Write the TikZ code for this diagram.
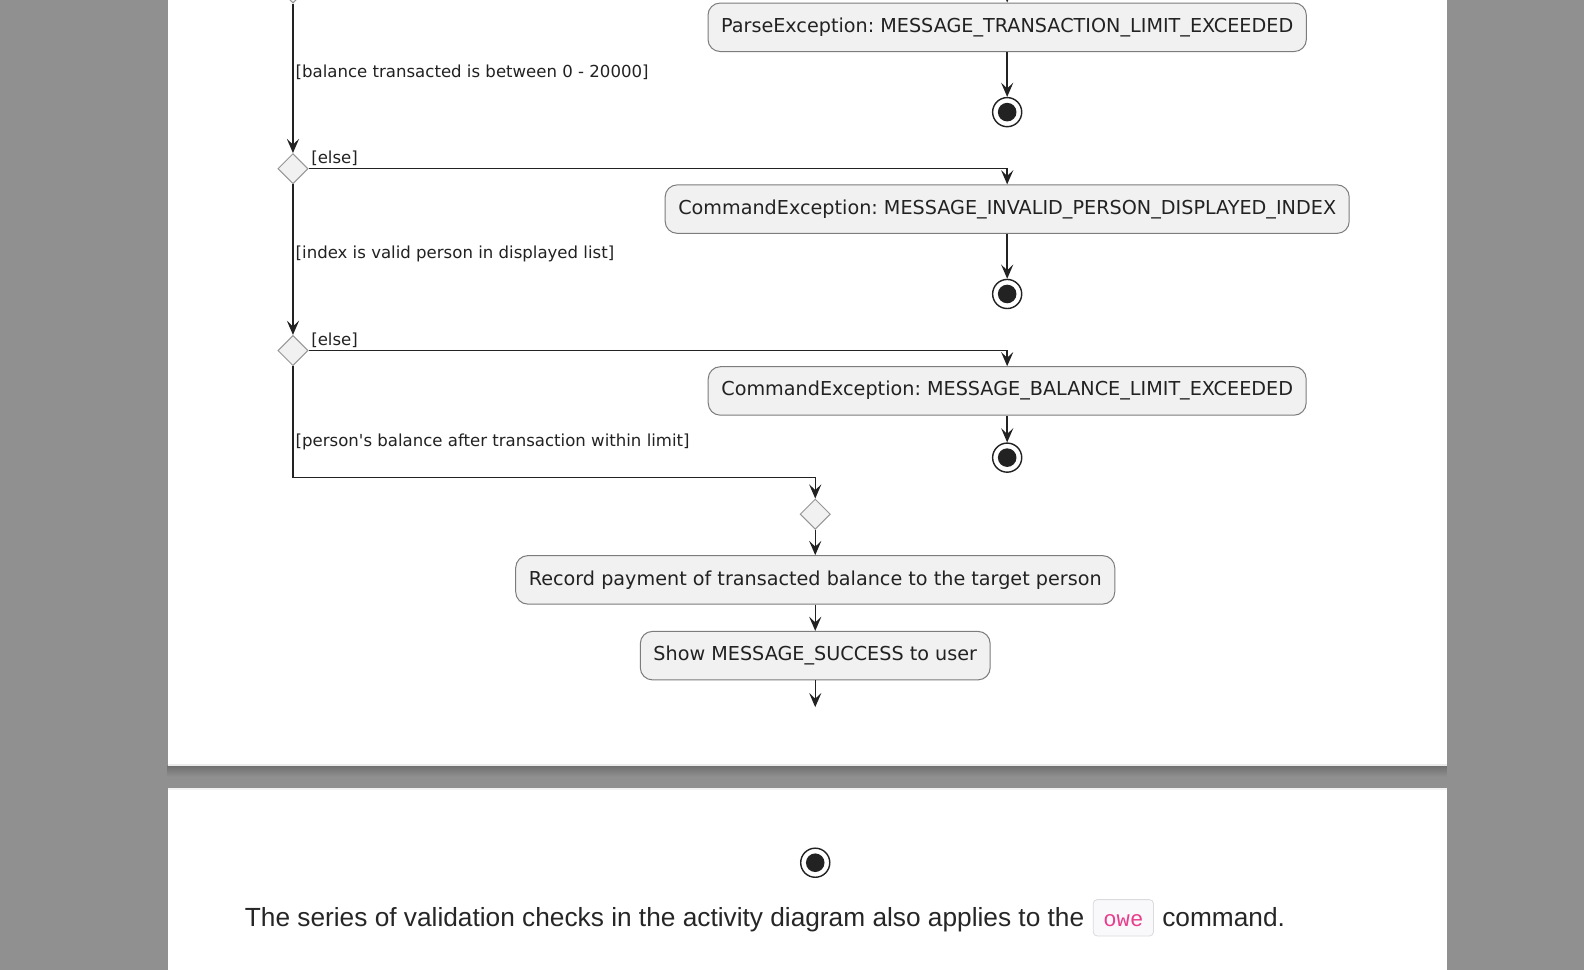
\documentclass[tikz,border=0pt]{standalone}
\usepackage{fontspec}
\setmainfont{DejaVu Sans}
\newfontfamily\pagefont{Liberation Sans}
\newfontfamily\codefont{Liberation Mono}
\usetikzlibrary{arrows.meta,shapes.geometric,positioning}
\definecolor{viewer}{HTML}{909090}
\definecolor{actfill}{HTML}{F1F1F1}
\definecolor{actline}{HTML}{7C7C7C}
\definecolor{flowline}{HTML}{222222}
\definecolor{codepink}{HTML}{E83E8C}
\definecolor{codeback}{HTML}{F9F9FC}
\definecolor{codeline}{HTML}{DADADF}
\frenchspacing

\begin{document}
\begin{tikzpicture}[x=0.5pt,y=-0.5pt,
  action/.style={draw=actline,fill=actfill,line width=0.5pt,rounded corners=6pt,minimum height=24pt,inner xsep=6.5pt,text=flowline,font=\fontsize{9.5}{11}\selectfont},
  choice/.style={diamond,draw=actline!80,fill=actfill,line width=0.5pt,minimum size=15pt,inner sep=0pt},
  stopnode/.style={circle,draw=flowline,fill=white,line width=0.7pt,minimum size=14.4pt,inner sep=0pt,path picture={\fill[flowline] (path picture bounding box.center) circle (4.6pt);}},
  flow/.style={draw=flowline,line width=0.7pt,-{Stealth[length=7pt,width=6pt,inset=2.8pt]}},
  guard/.style={text=flowline,inner sep=1pt,font=\fontsize{8.2}{10}\selectfont},
  pagetext/.style={inner sep=0pt,text=black!85,font=\pagefont\fontsize{13}{15}\selectfont},
  codebox/.style={draw=codeline,fill=codeback,rounded corners=2pt,inner xsep=5pt,text height=9.5pt,text depth=1pt,minimum height=18pt,text=codepink,font=\codefont\fontsize{11}{13}\selectfont}]
  \useasboundingbox (0,0) rectangle (1568,960);

  %viewer pages
  \fill[viewer] (0,0) rectangle (1568,960);
  \shade[top color=black!22!viewer,bottom color=viewer] (166,758) rectangle (1432,769);
  \fill[white] (166,-10) rectangle (1432,758);
  \fill[black!8] (166,756) rectangle (1432,758);
  \fill[white] (166,780) rectangle (1432,970);
  \fill[black!5] (166,780) rectangle (1432,782);

  %checks
  \node[choice] (chk0) at (290,-12) {};
  \node[choice] (chk1) at (290,167) {};
  \node[choice] (chk2) at (290,347) {};
  \node[choice] (merge) at (807,509) {};

  %exceptions
  \node[action] (ex1) at (997,27) {ParseException: MESSAGE\_TRANSACTION\_LIMIT\_EXCEEDED};
  \node[action] (ex2) at (997,207) {CommandException: MESSAGE\_INVALID\_PERSON\_DISPLAYED\_INDEX};
  \node[action] (ex3) at (997,387) {CommandException: MESSAGE\_BALANCE\_LIMIT\_EXCEEDED};
  \node[stopnode] (stop1) at (997,111) {};
  \node[stopnode] (stop2) at (997,291) {};
  \node[stopnode] (stop3) at (997,453) {};

  %success
  \node[action] (record) at (807,574) {Record payment of transacted balance to the target person};
  \node[action] (show) at (807,649) {Show MESSAGE\_SUCCESS to user};
  \coordinate (brk) at (807,700);
  \node[stopnode] (stop4) at (807,854) {};

  %flow
  \draw[flow] (chk0.east) -| (ex1.north);
  \draw[flow] (chk0) -- node[guard,pos=.46,anchor=west]{[balance transacted is between 0 - 20000]} (chk1);
  \draw[flow] (chk1.east) -| node[guard,pos=0,anchor=south west]{[else]} (ex2.north);
  \draw[flow] (chk1) -- node[guard,pos=.46,anchor=west]{[index is valid person in displayed list]} (chk2);
  \draw[flow] (chk2.east) -| node[guard,pos=0,anchor=south west]{[else]} (ex3.north);
  \draw[flow] (chk2.south) |- node[guard,pos=.34,anchor=west]{[person\textquotesingle s balance after transaction within limit]} ([yshift=10.5pt]merge.north) -- (merge.north);
  \draw[flow] (ex1) -- (stop1);
  \draw[flow] (ex2) -- (stop2);
  \draw[flow] (ex3) -- (stop3);
  \draw[flow] (merge) -- (record);
  \draw[flow] (record) -- (show);
  \draw[flow] (show) -- (brk);

  %note below
  \node[pagetext,anchor=base west] (note) at (242,917) {The series of validation checks in the activity diagram also applies to the};
  \node[codebox,right=4pt of note.base east,anchor=base west] (owe) {owe};
  \node[pagetext,right=4pt of owe.base east,anchor=base west] (note2) {command.};
\end{tikzpicture}
\end{document}
